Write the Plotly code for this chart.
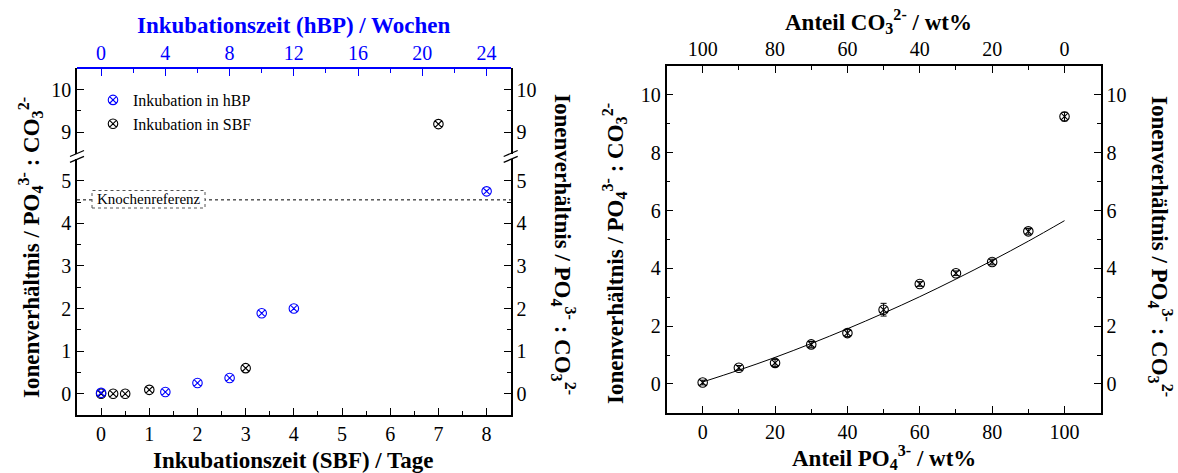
import plotly.graph_objects as go

W, H = 1178, 473
FONT = "Liberation Serif"
BLUE = "#0000FF"

# ---- left panel: ion ratio vs. incubation time ----
sbf_days = [0, 0.25, 0.5, 1, 3, 7]
sbf_ratio = [0.0, 0.0, 0.0, 0.09, 0.6, 9.19]
hbp_weeks = [0, 4, 6, 8, 10, 12, 24]
hbp_ratio = [0.02, 0.04, 0.25, 0.37, 1.89, 2.0, 4.75]
bone_reference = 4.55

# ---- right panel: ion ratio vs. phosphate fraction ----
po4_wt = [0, 10, 20, 30, 40, 50, 60, 70, 80, 90, 100]
mix_ratio = [0.05, 0.56, 0.73, 1.37, 1.76, 2.57, 3.46, 3.83, 4.22, 5.28, 9.25]
mix_err = [0.08, 0.08, 0.12, 0.1, 0.12, 0.22, 0.08, 0.08, 0.1, 0.1, 0.15]
fit_wt = [0, 10, 20, 30, 40, 50, 60, 70, 80, 90, 100]
fit_ratio = [0.07, 0.48, 0.92, 1.40, 1.91, 2.45, 3.02, 3.63, 4.27, 4.94, 5.65]

BREAK_LOW, BREAK_HIGH = 5.5, 8.5


def px(x):
    return x / W


def py(y):
    return 1 - y / H


# frame geometry (pixels)
LX0, LX1, LTOP, LBOT = 77, 510.7, 68.3, 415
L_LOW_TOP, L_UP_BOT = 159.4, 153.5
RX0, RX1, RTOP, RBOT = 666.5, 1100.7, 66, 412.9

tickfont = dict(family=FONT, size=20, color="black")
bluefont = dict(family=FONT, size=20, color=BLUE)


def minor(dt, col="black"):
    return dict(dtick=dt, ticks="inside", ticklen=4, tickwidth=1.2, tickcolor=col)


def axis_style(**kw):
    base = dict(
        showline=True, linecolor="black", linewidth=1.5, mirror=False,
        ticks="inside", ticklen=7, tickwidth=1.2, tickcolor="black",
        showgrid=False, zeroline=False, tickfont=tickfont,
    )
    base.update(kw)
    return base


fig = go.Figure()

# split SBF series over the broken y axis
low = [(x, y) for x, y in zip(sbf_days, sbf_ratio) if y < BREAK_LOW]
up = [(x, y) for x, y in zip(sbf_days, sbf_ratio) if y > BREAK_HIGH]

marker_blue = dict(symbol="circle-x-open", size=9.5, color=BLUE, line=dict(width=1.1, color=BLUE))
marker_black = dict(symbol="circle-x-open", size=9.5, color="black", line=dict(width=1.1, color="black"))

fig.add_trace(go.Scatter(
    x=hbp_weeks, y=hbp_ratio, mode="markers", marker=marker_blue,
    name="Inkubation in hBP", xaxis="x2", yaxis="y", legendrank=1,
))
fig.add_trace(go.Scatter(
    x=[p[0] for p in low], y=[p[1] for p in low], mode="markers", marker=marker_black,
    name="Inkubation in SBF", xaxis="x", yaxis="y", legendrank=2,
))
fig.add_trace(go.Scatter(
    x=[p[0] for p in up], y=[p[1] for p in up], mode="markers", marker=marker_black,
    name="Inkubation in SBF", xaxis="x", yaxis="y2", showlegend=False,
))

# right panel
fig.add_trace(go.Scatter(
    x=fit_wt, y=fit_ratio, mode="lines", line=dict(color="black", width=1, shape="spline"),
    xaxis="x3", yaxis="y5", showlegend=False,
))
fig.add_trace(go.Scatter(
    x=po4_wt, y=mix_ratio, mode="markers", marker=marker_black,
    error_y=dict(type="data", array=mix_err, visible=True, color="black", thickness=1, width=3),
    xaxis="x3", yaxis="y5", showlegend=False,
))

# empty traces so that the mirrored (right / top) axes get drawn
for xa, ya in (("x", "y3"), ("x", "y4"), ("x4", "y5"), ("x3", "y6")):
    fig.add_trace(go.Scatter(x=[None], y=[None], mode="markers", xaxis=xa, yaxis=ya,
                             showlegend=False, hoverinfo="skip"))

fig.update_layout(
    width=W, height=H,
    margin=dict(l=0, r=0, t=0, b=0),
    paper_bgcolor="white", plot_bgcolor="white",
    font=dict(family=FONT, color="black"),
    xaxis=axis_style(domain=[px(LX0), px(LX1)], range=[-0.5, 8.5], anchor="y",
                     tick0=0, dtick=1, minor=minor(0.5)),
    xaxis2=axis_style(overlaying="x", side="top", anchor="free", position=py(LTOP),
                      range=[-1.5, 25.5], tick0=0, dtick=4, linecolor=BLUE, tickcolor=BLUE,
                      tickfont=bluefont, minor=minor(2, BLUE)),
    yaxis=axis_style(domain=[py(LBOT), py(L_LOW_TOP)], range=[-0.5, BREAK_LOW], anchor="x",
                     tick0=0, dtick=1, minor=minor(0.5)),
    yaxis2=axis_style(domain=[py(L_UP_BOT), py(LTOP)], range=[BREAK_HIGH, 10.5], anchor="x",
                      tick0=0, dtick=1, minor=minor(0.5)),
    yaxis3=axis_style(overlaying="y", side="right", anchor="x", range=[-0.5, BREAK_LOW],
                      tick0=0, dtick=1, minor=minor(0.5)),
    yaxis4=axis_style(overlaying="y2", side="right", anchor="x", range=[BREAK_HIGH, 10.5],
                      tick0=0, dtick=1, minor=minor(0.5)),
    xaxis3=axis_style(domain=[px(RX0), px(RX1)], range=[-10, 110], anchor="y5",
                      tick0=0, dtick=20, minor=minor(10)),
    xaxis4=axis_style(overlaying="x3", side="top", anchor="y5", range=[110, -10],
                      tick0=0, dtick=20, minor=minor(10)),
    yaxis5=axis_style(domain=[py(RBOT), py(RTOP)], range=[-1, 11], anchor="x3",
                      tick0=0, dtick=2, minor=minor(1)),
    yaxis6=axis_style(overlaying="y5", side="right", anchor="x3", range=[-1, 11],
                      tick0=0, dtick=2, minor=minor(1)),
    legend=dict(x=px(93), y=py(83), xanchor="left", yanchor="top",
                font=dict(family=FONT, size=16, color="black"),
                bgcolor="rgba(0,0,0,0)", borderwidth=0, itemwidth=30),
    showlegend=True,
)

# bone reference line with its label box
fig.add_shape(type="line", xref="x domain", yref="y", x0=0, x1=1,
              y0=bone_reference, y1=bone_reference,
              line=dict(color="black", width=1, dash="dot"), layer="above")
fig.add_shape(type="rect", xref="paper", yref="paper",
              x0=px(92), x1=px(205), y0=py(208), y1=py(190.5),
              line=dict(color="#555", width=1, dash="dot"), fillcolor="white", layer="above")
fig.add_annotation(text="Knochenreferenz", xref="paper", yref="paper",
                   x=px(148.5), y=py(199.3), xanchor="center", yanchor="middle",
                   showarrow=False, font=dict(family=FONT, size=15, color="black"))

# axis-break marks on both sides of the left panel
for xb in (LX0, LX1):
    for yb in (L_UP_BOT, L_LOW_TOP):
        fig.add_shape(type="line", xref="paper", yref="paper",
                      x0=px(xb - 7), x1=px(xb + 7), y0=py(yb + 3), y1=py(yb - 3),
                      line=dict(color="black", width=1.3), layer="above")

# axis titles
ylabel = "<b>Ionenverhältnis / PO<sub>4</sub><sup>3-</sup> : CO<sub>3</sub><sup>2-</sup></b>"
titles = [
    ("<b>Inkubationszeit (hBP) / Wochen</b>", (LX0 + LX1) / 2, 26, 0, BLUE),
    ("<b>Inkubationszeit (SBF) / Tage</b>", (LX0 + LX1) / 2, 460, 0, "black"),
    (ylabel, 30, 248, -90, "black"),
    (ylabel, 563, 244, 90, "black"),
    ("<b>Anteil CO<sub>3</sub><sup>2-</sup> / wt%</b>", (RX0 + RX1) / 2 - 5, 22, 0, "black"),
    ("<b>Anteil PO<sub>4</sub><sup>3-</sup> / wt%</b>", (RX0 + RX1) / 2, 457, 0, "black"),
    (ylabel, 614, 254, -90, "black"),
    (ylabel, 1161, 246, 90, "black"),
]
for text, x, y, ang, col in titles:
    fig.add_annotation(text=text, xref="paper", yref="paper", x=px(x), y=py(y),
                       xanchor="center", yanchor="middle", showarrow=False, textangle=ang,
                       font=dict(family=FONT, size=23, color=col))

fig.write_html("out.html")
